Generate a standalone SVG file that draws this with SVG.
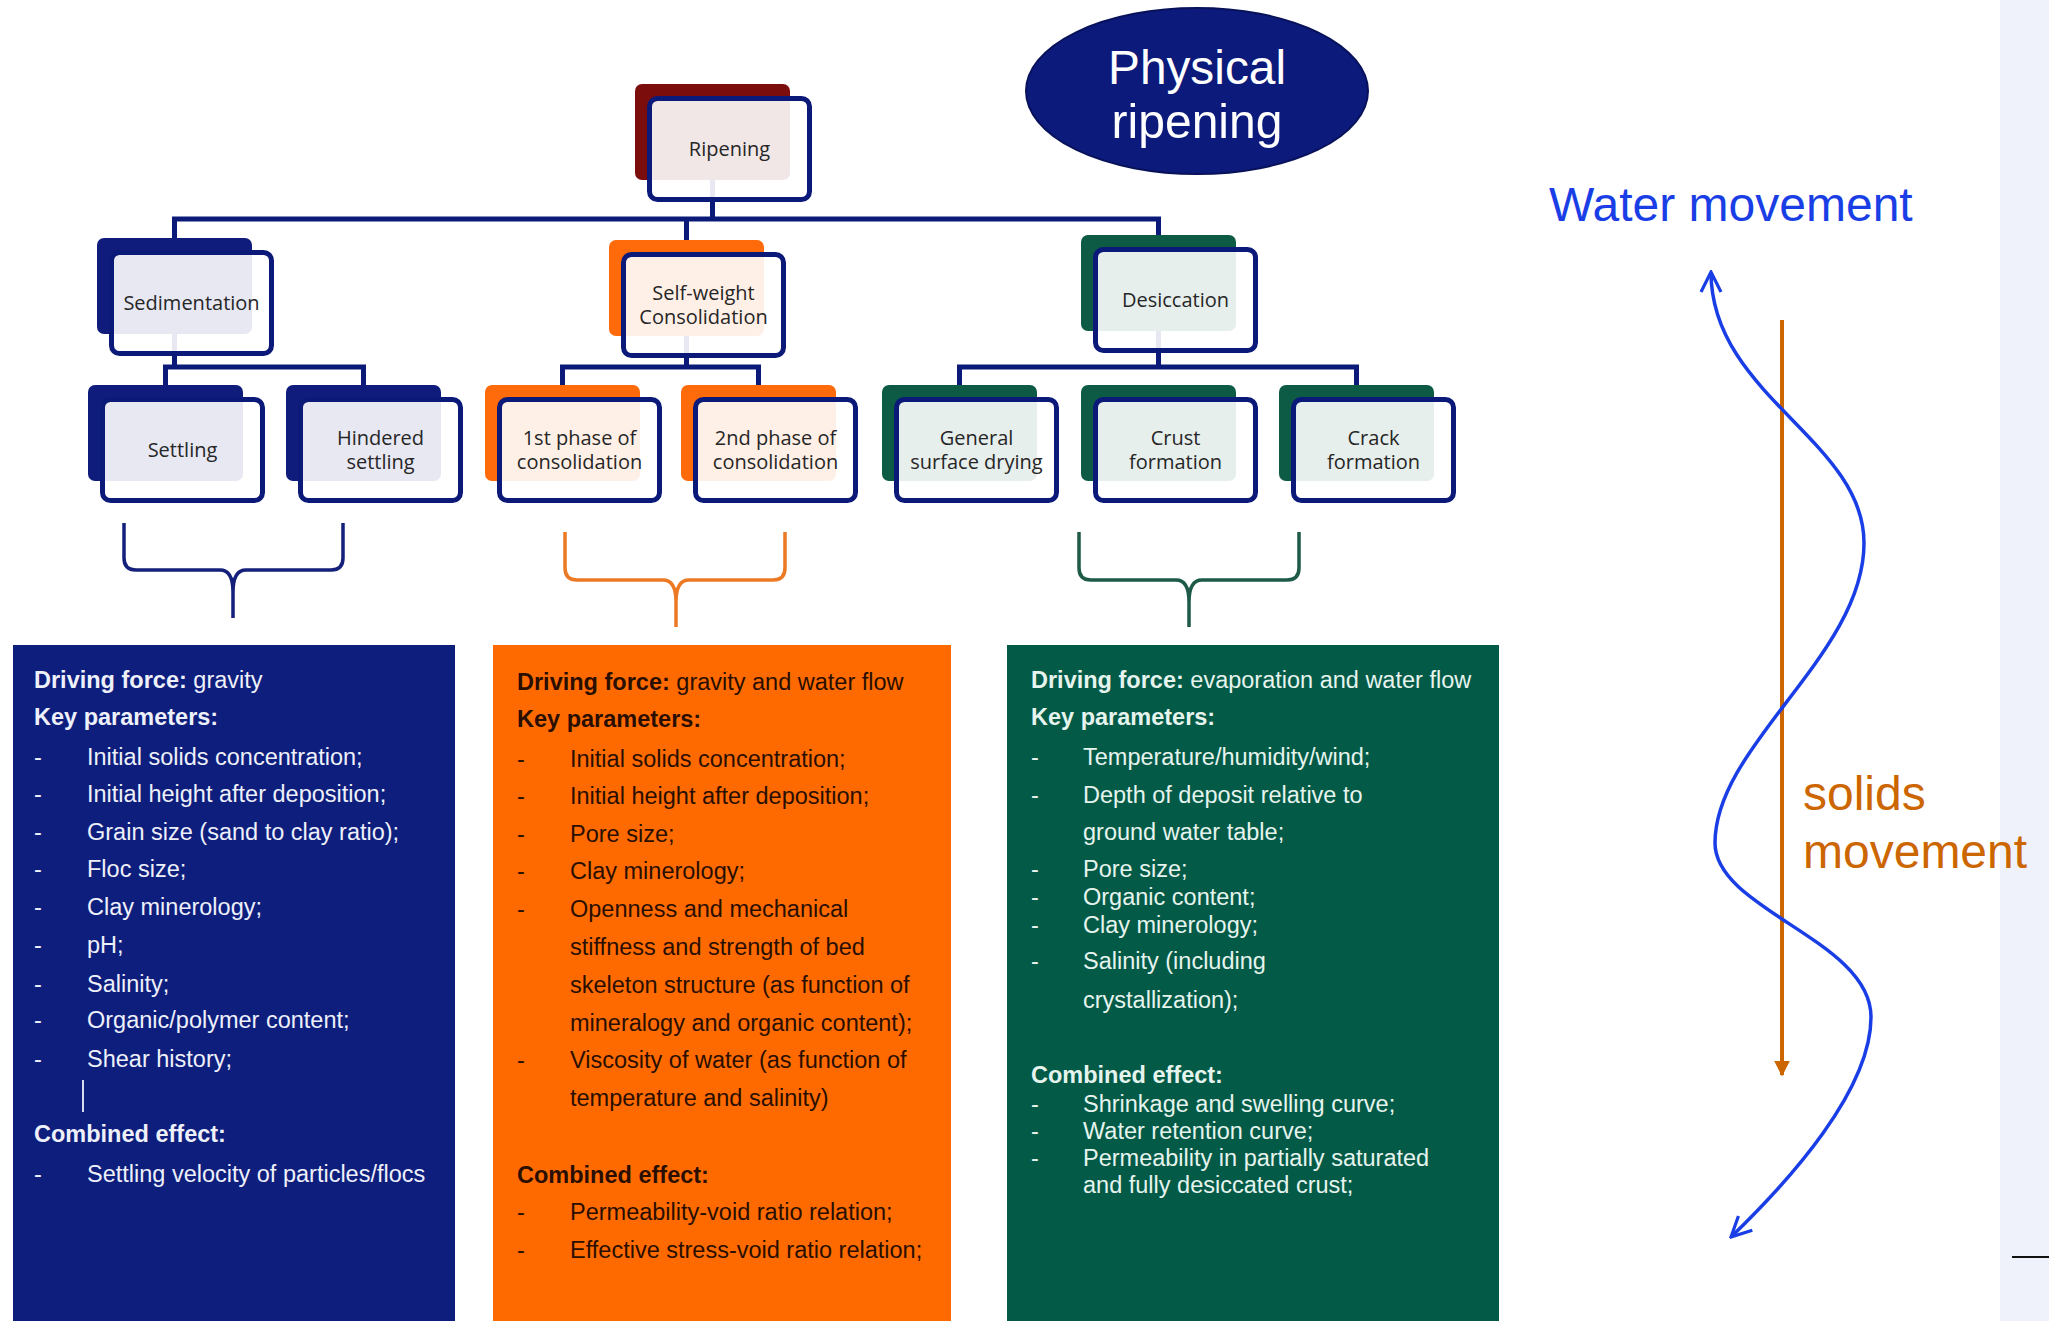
<svg xmlns="http://www.w3.org/2000/svg" width="2049" height="1321" viewBox="0 0 2049 1321">
<style>
.nt{font-family:"Open Sans","Liberation Sans",sans-serif;font-size:20px;fill:#262626;text-anchor:middle}
.front{fill:#ffffff;fill-opacity:0.9;stroke:#0B1A78;stroke-width:5}
.conn{fill:none;stroke:#0B1A78;stroke-width:5;stroke-linejoin:miter}
.brace{fill:none;stroke-width:3.5;stroke-linejoin:round}
.bx{font-family:"Liberation Sans",Arial,sans-serif;font-size:23.5px}
.b{font-weight:bold}
.navyT{fill:#EEF0FA}
.orT{fill:#2A0F00}
.grT{fill:#E6F4EE}
.big{font-family:"Liberation Sans",Arial,sans-serif;font-size:48px}
</style>
<defs>
<marker id="openArrow" viewBox="0 0 12 12" refX="11" refY="6" markerWidth="24" markerHeight="24" markerUnits="userSpaceOnUse" orient="auto-start-reverse">
<path d="M1,1 L11,6 L1,11" fill="none" stroke="#1A3EE6" stroke-width="1.6"/>
</marker>
<marker id="solidArrow" viewBox="0 0 10 10" refX="9" refY="5" markerWidth="16" markerHeight="16" markerUnits="userSpaceOnUse" orient="auto">
<path d="M0,0 L10,5 L0,10 Z" fill="#CC6600"/>
</marker>
</defs>
<rect x="0" y="0" width="2049" height="1321" fill="#ffffff"/>
<rect x="2000" y="0" width="49" height="1321" fill="#EFF2FA"/>
<line x1="2012" y1="1257" x2="2049" y2="1257" stroke="#111" stroke-width="2"/>

<g id="connectors">
<path class="conn" d="M712.5,180 V219 M174.5,238 V219 H1158.5 V235 M686.5,219 V240"/>
<path class="conn" d="M174.5,334 V367 M165.5,385 V367 H363.5 V385"/>
<path class="conn" d="M686.5,336 V367 M562.5,385 V367 H758.5 V385"/>
<path class="conn" d="M1158.5,331 V367 M959.5,385 V367 H1356.5 V385"/>
<path class="brace" stroke="#14207A" d="M124,523 V558 Q124,570 136,570 H220 Q233,570 233,592 V618 M233,592 Q233,570 246,570 H331 Q343,570 343,558 V523"/>
<path class="brace" stroke="#EC7A24" d="M565,532 V568 Q565,580 577,580 H663 Q676,580 676,602 V627 M676,602 Q676,580 689,580 H773 Q785,580 785,568 V532"/>
<path class="brace" stroke="#1E5A48" d="M1079,532 V568 Q1079,580 1091,580 H1176 Q1189,580 1189,602 V627 M1189,602 Q1189,580 1202,580 H1287 Q1299,580 1299,568 V532"/>
</g>

<g id="node-ripening">
<rect x="635" y="84" width="155" height="96" rx="7" fill="#7B0D0D"/>
<rect class="front" x="649.5" y="98.5" width="160" height="101" rx="8"/>
<text class="nt" x="729.5" y="156">Ripening</text>
</g>
<g id="node-sedimentation">
<rect x="97" y="238" width="155" height="96" rx="7" fill="#0F1C7C"/>
<rect class="front" x="111.5" y="252.5" width="160" height="101" rx="8"/>
<text class="nt" x="191.5" y="310">Sedimentation</text>
</g>
<g id="node-selfweight">
<rect x="609" y="240" width="155" height="96" rx="7" fill="#FF6A0A"/>
<rect class="front" x="623.5" y="254.5" width="160" height="101" rx="8"/>
<text class="nt" x="703.5" y="300">Self-weight</text>
<text class="nt" x="703.5" y="324">Consolidation</text>
</g>
<g id="node-desiccation">
<rect x="1081" y="235" width="155" height="96" rx="7" fill="#0D5A45"/>
<rect class="front" x="1095.5" y="249.5" width="160" height="101" rx="8"/>
<text class="nt" x="1175.5" y="307">Desiccation</text>
</g>
<g id="node-settling">
<rect x="88" y="385" width="155" height="96" rx="7" fill="#0F1C7C"/>
<rect class="front" x="102.5" y="399.5" width="160" height="101" rx="8"/>
<text class="nt" x="182.5" y="457">Settling</text>
</g>
<g id="node-hindered">
<rect x="286" y="385" width="155" height="96" rx="7" fill="#0F1C7C"/>
<rect class="front" x="300.5" y="399.5" width="160" height="101" rx="8"/>
<text class="nt" x="380.5" y="445">Hindered</text>
<text class="nt" x="380.5" y="469">settling</text>
</g>
<g id="node-phase1">
<rect x="485" y="385" width="155" height="96" rx="7" fill="#FF6A0A"/>
<rect class="front" x="499.5" y="399.5" width="160" height="101" rx="8"/>
<text class="nt" x="579.5" y="445">1st phase of</text>
<text class="nt" x="579.5" y="469">consolidation</text>
</g>
<g id="node-phase2">
<rect x="681" y="385" width="155" height="96" rx="7" fill="#FF6A0A"/>
<rect class="front" x="695.5" y="399.5" width="160" height="101" rx="8"/>
<text class="nt" x="775.5" y="445">2nd phase of</text>
<text class="nt" x="775.5" y="469">consolidation</text>
</g>
<g id="node-general">
<rect x="882" y="385" width="155" height="96" rx="7" fill="#0D5A45"/>
<rect class="front" x="896.5" y="399.5" width="160" height="101" rx="8"/>
<text class="nt" x="976.5" y="445">General</text>
<text class="nt" x="976.5" y="469">surface drying</text>
</g>
<g id="node-crust">
<rect x="1081" y="385" width="155" height="96" rx="7" fill="#0D5A45"/>
<rect class="front" x="1095.5" y="399.5" width="160" height="101" rx="8"/>
<text class="nt" x="1175.5" y="445">Crust</text>
<text class="nt" x="1175.5" y="469">formation</text>
</g>
<g id="node-crack">
<rect x="1279" y="385" width="155" height="96" rx="7" fill="#0D5A45"/>
<rect class="front" x="1293.5" y="399.5" width="160" height="101" rx="8"/>
<text class="nt" x="1373.5" y="445">Crack</text>
<text class="nt" x="1373.5" y="469">formation</text>
</g>

<g id="node-physical-ripening">
<ellipse cx="1197" cy="91" rx="171" ry="83" fill="#0C1A7B" stroke="#08125A" stroke-width="2"/>
<text x="1197" y="84" font-family="Liberation Sans, Arial, sans-serif" font-size="48" fill="#ffffff" text-anchor="middle" textLength="178" lengthAdjust="spacingAndGlyphs">Physical</text>
<text x="1197" y="138" font-family="Liberation Sans, Arial, sans-serif" font-size="48" fill="#ffffff" text-anchor="middle" textLength="171" lengthAdjust="spacingAndGlyphs">ripening</text>
</g>

<g id="box-sedimentation">
<rect x="13" y="645" width="442" height="676" fill="#0D1E7D"/>
<g class="bx navyT">
<text x="34" y="688"><tspan class="b">Driving force:</tspan> gravity</text>
<text x="34" y="725" class="b">Key parameters:</text>
<text x="34" y="765">-</text><text x="87" y="765">Initial solids concentration;</text>
<text x="34" y="802">-</text><text x="87" y="802">Initial height after deposition;</text>
<text x="34" y="840">-</text><text x="87" y="840">Grain size (sand to clay ratio);</text>
<text x="34" y="877">-</text><text x="87" y="877">Floc size;</text>
<text x="34" y="915">-</text><text x="87" y="915">Clay minerology;</text>
<text x="34" y="953">-</text><text x="87" y="953">pH;</text>
<text x="34" y="992">-</text><text x="87" y="992">Salinity;</text>
<text x="34" y="1028">-</text><text x="87" y="1028">Organic/polymer content;</text>
<text x="34" y="1067">-</text><text x="87" y="1067">Shear history;</text>
<text x="34" y="1142" class="b">Combined effect:</text>
<text x="34" y="1182">-</text><text x="87" y="1182">Settling velocity of particles/flocs</text>
</g>
<line x1="83" y1="1080" x2="83" y2="1112" stroke="#D8DCF0" stroke-width="2"/>
</g>

<g id="box-consolidation">
<rect x="493" y="645" width="458" height="676" fill="#FF6A00"/>
<g class="bx orT">
<text x="517" y="690"><tspan class="b">Driving force:</tspan> gravity and water flow</text>
<text x="517" y="727" class="b">Key parameters:</text>
<text x="517" y="767">-</text><text x="570" y="767">Initial solids concentration;</text>
<text x="517" y="804">-</text><text x="570" y="804">Initial height after deposition;</text>
<text x="517" y="842">-</text><text x="570" y="842">Pore size;</text>
<text x="517" y="879">-</text><text x="570" y="879">Clay minerology;</text>
<text x="517" y="917">-</text><text x="570" y="917">Openness and mechanical</text>
<text x="570" y="955">stiffness and strength of bed</text>
<text x="570" y="993">skeleton structure (as function of</text>
<text x="570" y="1031">mineralogy and organic content);</text>
<text x="517" y="1068">-</text><text x="570" y="1068">Viscosity of water (as function of</text>
<text x="570" y="1106">temperature and salinity)</text>
<text x="517" y="1183" class="b">Combined effect:</text>
<text x="517" y="1220">-</text><text x="570" y="1220">Permeability-void ratio relation;</text>
<text x="517" y="1258">-</text><text x="570" y="1258">Effective stress-void ratio relation;</text>
</g>
</g>

<g id="box-desiccation">
<rect x="1007" y="645" width="492" height="676" fill="#035A47"/>
<g class="bx grT">
<text x="1031" y="688"><tspan class="b">Driving force:</tspan> evaporation and water flow</text>
<text x="1031" y="725" class="b">Key parameters:</text>
<text x="1031" y="765">-</text><text x="1083" y="765">Temperature/humidity/wind;</text>
<text x="1031" y="803">-</text><text x="1083" y="803">Depth of deposit relative to</text>
<text x="1083" y="840">ground water table;</text>
<text x="1031" y="877">-</text><text x="1083" y="877">Pore size;</text>
<text x="1031" y="905">-</text><text x="1083" y="905">Organic content;</text>
<text x="1031" y="933">-</text><text x="1083" y="933">Clay minerology;</text>
<text x="1031" y="969">-</text><text x="1083" y="969">Salinity (including</text>
<text x="1083" y="1008">crystallization);</text>
<text x="1031" y="1083" class="b">Combined effect:</text>
<text x="1031" y="1112">-</text><text x="1083" y="1112">Shrinkage and swelling curve;</text>
<text x="1031" y="1139">-</text><text x="1083" y="1139">Water retention curve;</text>
<text x="1031" y="1166">-</text><text x="1083" y="1166">Permeability in partially saturated</text>
<text x="1083" y="1193">and fully desiccated crust;</text>
</g>
</g>

<g id="movement">
<text class="big" x="1549" y="221" fill="#1A3EE6">Water movement</text>
<text class="big" x="1803" y="810" fill="#CC6600">solids</text>
<text class="big" x="1803" y="868" fill="#CC6600">movement</text>
<line x1="1782" y1="320" x2="1782" y2="1075" stroke="#CC6600" stroke-width="4" marker-end="url(#solidArrow)"/>
<path d="M1711,272 C1711,395 1864,440 1864,543 C1864,655 1715,745 1715,843 C1715,910 1871,940 1871,1017 C1871,1090 1790,1180 1731,1237" fill="none" stroke="#1A3EE6" stroke-width="3.5" marker-start="url(#openArrow)" marker-end="url(#openArrow)"/>
</g>
</svg>
